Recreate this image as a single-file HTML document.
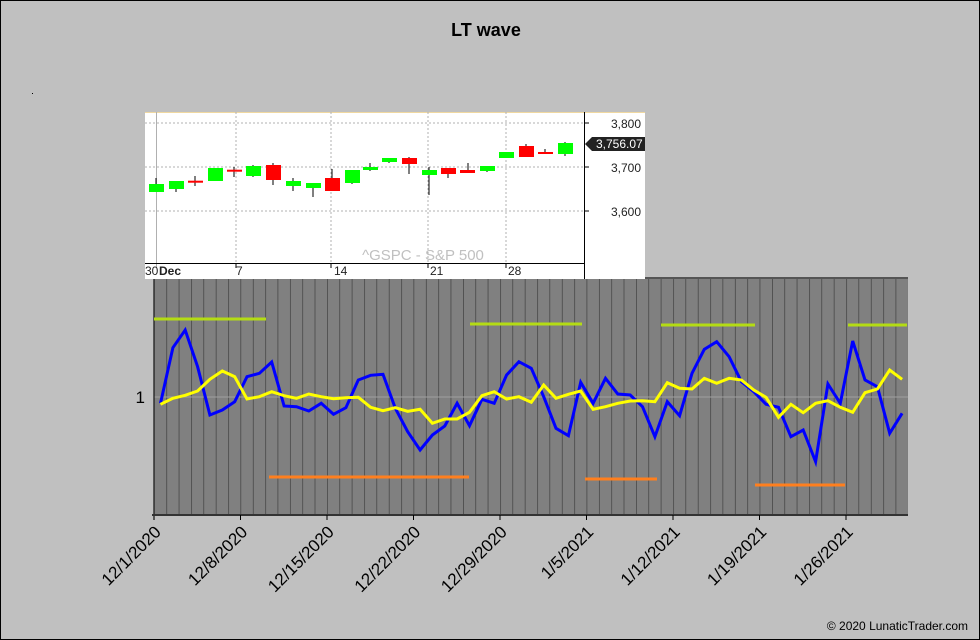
<!DOCTYPE html>
<html><head><meta charset="utf-8"><style>
body{margin:0;background:#c0c0c0;}
svg{display:block;font-family:"Liberation Sans",sans-serif;}
</style></head><body>
<svg width="980" height="640" viewBox="0 0 980 640">
<defs>
<pattern id="vg" x="154" y="0" width="12.36" height="640" patternUnits="userSpaceOnUse">
<line x1="0" y1="0" x2="0" y2="640" stroke="#3a3a3a" stroke-width="1.3"/>
</pattern>
</defs>
<rect x="0" y="0" width="980" height="640" fill="#c0c0c0"/>
<rect x="0.5" y="0.5" width="979" height="639" fill="none" stroke="#000"/>
<text x="486" y="36" font-size="18" font-weight="bold" text-anchor="middle">LT wave</text>
<rect x="32" y="93" width="1" height="1" fill="#000"/>

<!-- main plot -->
<rect x="154" y="278" width="754" height="237" fill="#808080"/>
<rect x="154" y="278" width="754" height="237" fill="url(#vg)"/>
<line x1="154" y1="278" x2="908" y2="278" stroke="#555" stroke-width="2"/>
<line x1="154" y1="397" x2="908" y2="397" stroke="#a0a0a0" stroke-width="1"/>
<line x1="152" y1="515" x2="908" y2="515" stroke="#333" stroke-width="2"/>
<line x1="154" y1="278" x2="154" y2="520" stroke="#333" stroke-width="1.5"/>
<g stroke="#000" stroke-width="1">
<line x1="240.5" y1="515" x2="240.5" y2="520"/><line x1="327" y1="515" x2="327" y2="520"/><line x1="413.5" y1="515" x2="413.5" y2="520"/><line x1="500" y1="515" x2="500" y2="520"/><line x1="586.5" y1="515" x2="586.5" y2="520"/><line x1="673" y1="515" x2="673" y2="520"/><line x1="759.5" y1="515" x2="759.5" y2="520"/><line x1="846" y1="515" x2="846" y2="520"/>
</g>
<text x="145" y="403" font-size="17" text-anchor="end">1</text>

<g stroke="#b4dc14" stroke-width="3">
<line x1="154" y1="319" x2="266" y2="319"/>
<line x1="470" y1="324" x2="582" y2="324"/>
<line x1="661" y1="325" x2="755" y2="325"/>
<line x1="848" y1="325" x2="907" y2="325"/>
</g>
<g stroke="#ff7f1e" stroke-width="3">
<line x1="269" y1="477" x2="469" y2="477"/>
<line x1="585" y1="479" x2="657" y2="479"/>
<line x1="755" y1="485" x2="845" y2="485"/>
</g>

<polyline fill="none" stroke="#0000ff" stroke-width="3" stroke-linejoin="miter" points="160.5,403.3 172.9,347.7 185.2,330 197.6,366.7 209.9,415 222.3,410 234.7,401.7 247,376.7 259.4,373.3 271.7,362 284.1,406 296.5,406.7 308.8,411 321.2,403.3 333.5,414.3 345.9,407.7 358.3,380 370.6,375.3 383,374.3 395.3,408.3 407.7,431.7 420.1,450 432.4,435 444.8,426 457.1,403.3 469.5,425.7 481.9,399.3 494.2,403.3 506.6,375 518.9,361.7 531.3,368.3 543.7,396.7 556,428.3 568.4,435.7 580.7,382.3 593.1,403.3 605.5,378.3 617.8,394 630.2,395 642.5,406.7 654.9,436.7 667.3,401.7 679.6,415.7 692,373.3 704.3,349.3 716.7,341.7 729.1,356.7 741.4,381.7 753.8,391.7 766.1,404.3 778.5,407.3 790.9,436.7 803.2,430 815.6,461.7 827.9,384 840.3,403.3 852.7,341 865,380 877.4,386.7 889.7,433.3 902.1,413.3"/>
<polyline fill="none" stroke="#ffff00" stroke-width="3" points="160.5,404.3 172.9,398.3 185.2,395.3 197.6,391 209.9,379.3 222.3,371 234.7,376.7 247,399 259.4,396.7 271.7,391.7 284.1,395.7 296.5,398.3 308.8,394 321.2,396.7 333.5,398.7 345.9,397.7 358.3,397.3 370.6,407.3 383,410.7 395.3,407.7 407.7,411.3 420.1,409.3 432.4,423.3 444.8,419 457.1,419 469.5,412.3 481.9,395.7 494.2,391.7 506.6,399 518.9,396.7 531.3,402.3 543.7,385 556,398.3 568.4,394.3 580.7,391 593.1,409.3 605.5,406.7 617.8,403.3 630.2,401 642.5,400.7 654.9,401.7 667.3,382.7 679.6,388.3 692,389 704.3,378.3 716.7,383.3 729.1,378.3 741.4,380 753.8,390 766.1,397.3 778.5,417.3 790.9,404.3 803.2,412.7 815.6,403.3 827.9,400.7 840.3,407.3 852.7,412.3 865,392.7 877.4,389 889.7,370 902.1,379.3"/>

<g font-size="17" fill="#000" text-anchor="end">
<text transform="translate(162,533) rotate(-45)">12/1/2020</text>
<text transform="translate(248.5,533) rotate(-45)">12/8/2020</text>
<text transform="translate(335,533) rotate(-45)">12/15/2020</text>
<text transform="translate(421.5,533) rotate(-45)">12/22/2020</text>
<text transform="translate(508,533) rotate(-45)">12/29/2020</text>
<text transform="translate(594.5,533) rotate(-45)">1/5/2021</text>
<text transform="translate(681,533) rotate(-45)">1/12/2021</text>
<text transform="translate(767.5,533) rotate(-45)">1/19/2021</text>
<text transform="translate(854,533) rotate(-45)">1/26/2021</text>
</g>
<text x="968" y="630" font-size="12" text-anchor="end">© 2020 LunaticTrader.com</text>

<!-- inset -->
<rect x="145" y="112" width="500" height="167" fill="#fff"/>
<line x1="145" y1="112.5" x2="645" y2="112.5" stroke="#f0d8a0" stroke-width="1"/>
<g stroke="#b0b0b0" stroke-width="1" stroke-dasharray="2,2">
<line x1="145" y1="123" x2="584" y2="123"/>
<line x1="145" y1="167" x2="584" y2="167"/>
<line x1="145" y1="211" x2="584" y2="211"/>
<line x1="236" y1="112" x2="236" y2="263"/>
<line x1="331" y1="112" x2="331" y2="263"/>
<line x1="428" y1="112" x2="428" y2="263"/>
<line x1="506" y1="112" x2="506" y2="263"/>
</g>
<line x1="156.5" y1="112" x2="156.5" y2="268" stroke="#b0b0b0"/>
<line x1="145" y1="263.5" x2="584" y2="263.5" stroke="#000"/>
<line x1="584.5" y1="112" x2="584.5" y2="279" stroke="#000"/>
<g stroke="#000"><line x1="584" y1="123" x2="589" y2="123"/><line x1="584" y1="167" x2="589" y2="167"/><line x1="584" y1="211" x2="589" y2="211"/>
<line x1="236" y1="263" x2="236" y2="268"/><line x1="331" y1="263" x2="331" y2="268"/><line x1="428" y1="263" x2="428" y2="268"/><line x1="506" y1="263" x2="506" y2="268"/></g>
<g font-size="12" fill="#222">
<text x="641" y="128" text-anchor="end">3,800</text>
<text x="641" y="172" text-anchor="end">3,700</text>
<text x="641" y="216" text-anchor="end">3,600</text>
<text x="145" y="275">30</text>
<text x="159" y="275" font-weight="bold">Dec</text>
<text x="236" y="275">7</text>
<text x="334" y="275">14</text>
<text x="430" y="275">21</text>
<text x="508" y="275">28</text>
</g>
<text x="423" y="260" font-size="15" fill="#c0c0c0" text-anchor="middle">^GSPC - S&amp;P 500</text>
<polygon points="585,144 592,137 645,137 645,151 592,151" fill="#222"/>
<text x="596" y="148" font-size="12" fill="#fff">3,756.07</text>

<g stroke="#000" stroke-width="1">
<line x1="156" y1="178" x2="156" y2="192"/><line x1="176" y1="181" x2="176" y2="192"/><line x1="195" y1="176" x2="195" y2="186"/>
<line x1="234" y1="167" x2="234" y2="177"/><line x1="253" y1="165" x2="253" y2="177"/><line x1="273" y1="163" x2="273" y2="185"/>
<line x1="293" y1="178" x2="293" y2="191"/><line x1="313" y1="183" x2="313" y2="197"/><line x1="332" y1="169" x2="332" y2="191"/>
<line x1="352" y1="170" x2="352" y2="184"/><line x1="370" y1="163" x2="370" y2="171"/><line x1="389" y1="158" x2="389" y2="163"/>
<line x1="409" y1="157" x2="409" y2="174"/><line x1="429" y1="167" x2="429" y2="195"/><line x1="448" y1="168" x2="448" y2="178"/>
<line x1="468" y1="163" x2="468" y2="173"/><line x1="487" y1="166" x2="487" y2="172"/><line x1="526" y1="144" x2="526" y2="157"/>
<line x1="545" y1="149" x2="545" y2="154"/><line x1="565" y1="142" x2="565" y2="156"/>
</g>
<g fill="#00ff00">
<rect x="149" y="184" width="15" height="8"/><rect x="169" y="181" width="15" height="8"/><rect x="208" y="168" width="15" height="13"/>
<rect x="246" y="166" width="15" height="10"/><rect x="286" y="181" width="15" height="5"/><rect x="306" y="183" width="15" height="5"/>
<rect x="345" y="170" width="15" height="13"/><rect x="363" y="167" width="15" height="3"/><rect x="382" y="158" width="15" height="4"/>
<rect x="422" y="170" width="15" height="5"/><rect x="480" y="166" width="15" height="5"/><rect x="499" y="152" width="15" height="6"/>
<rect x="558" y="143" width="15" height="11"/>
</g>
<g fill="#ff0000">
<rect x="188" y="180.7" width="15" height="2"/><rect x="227" y="169.7" width="15" height="2"/><rect x="266" y="165" width="15" height="15"/>
<rect x="325" y="178" width="15" height="13"/><rect x="402" y="158" width="15" height="6"/><rect x="441" y="168" width="15" height="6"/>
<rect x="460" y="170" width="15" height="3"/><rect x="519" y="146" width="15" height="11"/><rect x="538" y="152" width="15" height="2"/>
</g>
</svg>
</body></html>
